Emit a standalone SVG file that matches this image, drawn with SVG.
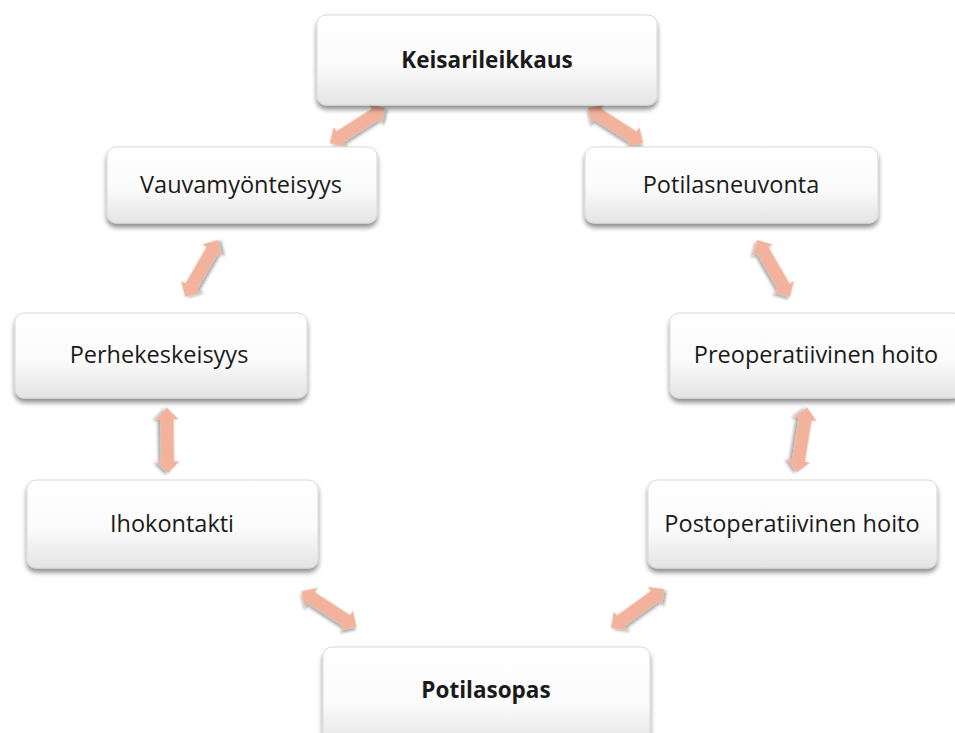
<svg xmlns="http://www.w3.org/2000/svg" xmlns:xlink="http://www.w3.org/1999/xlink" width="955" height="733" viewBox="0 0 955 733">
<style>
.box{fill:url(#g);stroke:#d9d9d9;stroke-width:1;filter:url(#sh)}
.t{font-family:"Open Sans","Liberation Sans",sans-serif;font-size:23.5px;fill:#1a1a1a;text-anchor:middle}
.b{font-weight:bold;font-size:22.5px}
.arr{fill:#f2b29b;filter:url(#ash)}
</style>
<defs>
<linearGradient id="g" x1="0" y1="0" x2="0" y2="1">
<stop offset="0" stop-color="#ffffff"/>
<stop offset="0.55" stop-color="#fbfbfb"/>
<stop offset="1" stop-color="#e4e4e4"/>
</linearGradient>
<filter id="sh" x="-10%" y="-10%" width="120%" height="140%">
<feGaussianBlur in="SourceAlpha" stdDeviation="2.5"/>
<feOffset dx="0" dy="4" result="o"/>
<feComponentTransfer><feFuncA type="linear" slope="0.45"/></feComponentTransfer>
<feMerge><feMergeNode/><feMergeNode in="SourceGraphic"/></feMerge>
</filter>
<filter id="ash" x="-30%" y="-50%" width="160%" height="200%">
<feGaussianBlur in="SourceAlpha" stdDeviation="1.5"/>
<feOffset dx="1" dy="3"/>
<feComponentTransfer><feFuncA type="linear" slope="0.35"/></feComponentTransfer>
<feMerge><feMergeNode/><feMergeNode in="SourceGraphic"/></feMerge>
</filter>
<path id="arrow" d="M-33,0 L-21,-11.5 L-21,-6.5 L21,-6.5 L21,-11.5 L33,0 L21,11.5 L21,6.5 L-21,6.5 L-21,11.5 Z"/>
</defs>
<rect width="955" height="733" fill="#ffffff"/>
<g id="connectors">
<use href="#arrow" class="arr" transform="translate(357.5,125.5) rotate(-32.5)"/>
<use href="#arrow" class="arr" transform="translate(615.5,125.5) rotate(32.5)"/>
<use href="#arrow" class="arr" transform="translate(201.5,268.5) rotate(-60)"/>
<use href="#arrow" class="arr" transform="translate(773.5,268.5) rotate(60)"/>
<use href="#arrow" class="arr" transform="translate(167.5,440.5) rotate(89)"/>
<use href="#arrow" class="arr" transform="translate(802,440) rotate(99)"/>
<use href="#arrow" class="arr" transform="translate(329,609) rotate(33)"/>
<use href="#arrow" class="arr" transform="translate(637.5,608.5) rotate(-36)"/>
</g>
<g id="keisarileikkaus">
<rect class="box" x="317" y="15" width="340" height="90" rx="9"/>
<text class="t b" x="487" y="68">Keisarileikkaus</text>
</g>
<g id="vauvamyonteisyys">
<rect class="box" x="107" y="147" width="270" height="76" rx="9"/>
<text class="t" x="241" y="193">Vauvamyönteisyys</text>
</g>
<g id="potilasneuvonta">
<rect class="box" x="585" y="147" width="293" height="76" rx="9"/>
<text class="t" x="731" y="193">Potilasneuvonta</text>
</g>
<g id="perhekeskeisyys">
<rect class="box" x="15" y="313" width="292" height="85" rx="9"/>
<text class="t" x="159" y="363">Perhekeskeisyys</text>
</g>
<g id="preoperatiivinen">
<rect class="box" x="670" y="313" width="292" height="85" rx="9"/>
<text class="t" x="816" y="363">Preoperatiivinen hoito</text>
</g>
<g id="ihokontakti">
<rect class="box" x="27" y="480" width="291" height="88" rx="9"/>
<text class="t" x="172" y="532">Ihokontakti</text>
</g>
<g id="postoperatiivinen">
<rect class="box" x="648" y="480" width="289" height="88" rx="9"/>
<text class="t" x="792" y="532">Postoperatiivinen hoito</text>
</g>
<g id="potilasopas">
<rect class="box" x="323" y="647" width="327" height="100" rx="9"/>
<text class="t b" x="486" y="698">Potilasopas</text>
</g>
</svg>
